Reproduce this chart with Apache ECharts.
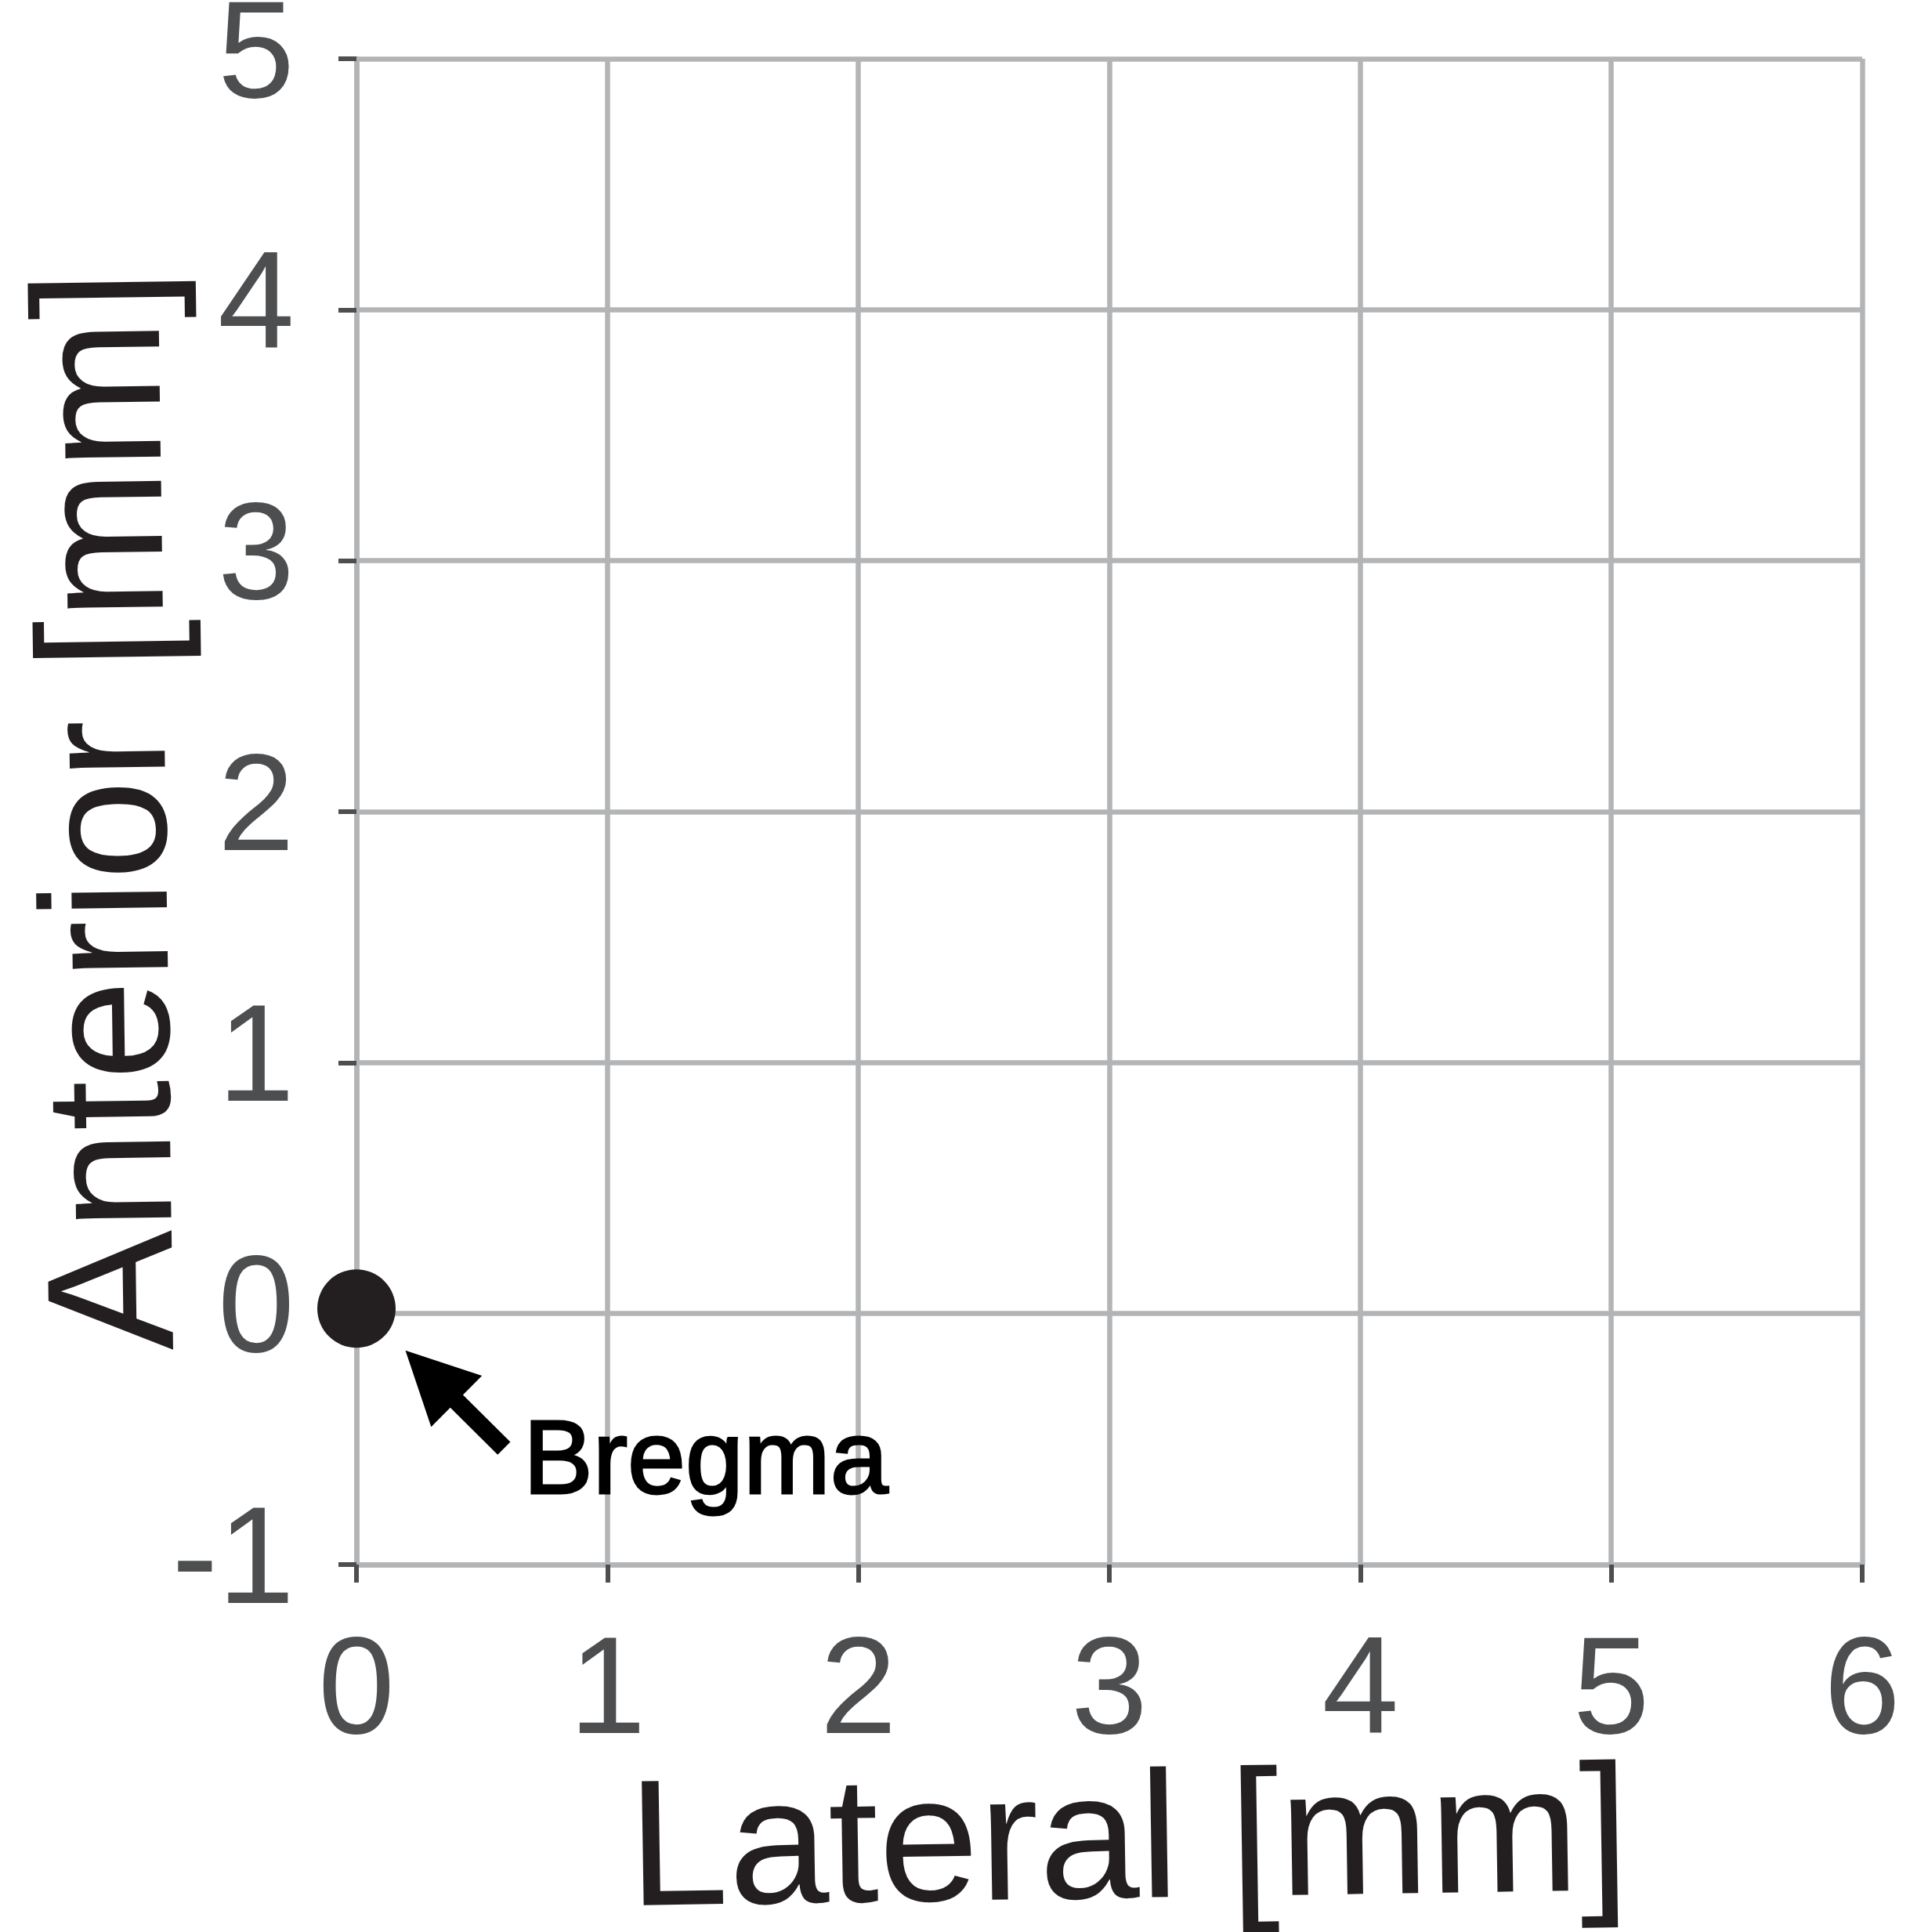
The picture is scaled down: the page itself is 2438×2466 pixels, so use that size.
<!DOCTYPE html>
<html>
<head>
<meta charset="utf-8">
<script src="https://cdn.jsdelivr.net/npm/echarts@6/dist/echarts.min.js"></script>
<style>
html,body{margin:0;padding:0;background:#fff;}
#chart{width:2438px;height:2466px;}
</style>
</head>
<body>
<div id="chart"></div>
<script>
// ---- data ----
const xTickValues = [0, 1, 2, 3, 4, 5, 6];
const yTickValues = [-1, 0, 1, 2, 3, 4, 5];
const xAxisTitle = 'Lateral [mm]';
const yAxisTitle = 'Anterior [mm]';
const bregmaPoint = [0, 0.02];
const arrowTail = [0.588, -0.537];
const arrowEnd = [0.297, -0.248];
const labelAnchor = [0.665, -0.603];
const labelText = 'Bregma';

const FONT = 'Liberation Sans';
const GRID_COLOR = '#b3b4b6';
const TICK_COLOR = '#4d4e50';
const INK = '#231f20';

const chart = echarts.init(document.getElementById('chart'), null, {renderer: 'canvas'});
chart.setOption({
  animation: false,
  backgroundColor: '#ffffff',
  grid: {left: 455, right: 61, top: 75, bottom: 469, containLabel: false, outerBoundsMode: 'none'},
  xAxis: {
    type: 'value',
    min: xTickValues[0], max: xTickValues[xTickValues.length - 1], interval: 1,
    axisLine: {show: true, onZero: false, lineStyle: {color: GRID_COLOR, width: 6.5}},
    axisTick: {show: true, length: 23, lineStyle: {color: TICK_COLOR, width: 6}},
    splitLine: {show: true, lineStyle: {color: GRID_COLOR, width: 6.5}},
    axisLabel: {margin: 78, fontSize: 176, fontFamily: FONT, color: TICK_COLOR},
    name: xAxisTitle,
    nameLocation: 'middle',
    nameGap: 247,
    nameMoveOverlap: false,
    nameRotate: 0.9,
    nameTextStyle: {fontSize: 230, fontFamily: FONT, color: INK, align: 'center', verticalAlign: 'top', padding: [0, 0, 0, 46]}
  },
  yAxis: {
    type: 'value',
    min: yTickValues[0], max: yTickValues[yTickValues.length - 1], interval: 1,
    axisLine: {show: true, onZero: false, lineStyle: {color: GRID_COLOR, width: 6.5}},
    axisTick: {show: true, length: 23, lineStyle: {color: TICK_COLOR, width: 6}},
    splitLine: {show: true, lineStyle: {color: GRID_COLOR, width: 6.5}},
    axisLabel: {margin: 79, fontSize: 176, fontFamily: FONT, color: TICK_COLOR},
    name: yAxisTitle,
    nameLocation: 'middle',
    nameGap: 192,
    nameMoveOverlap: false,
    nameRotate: 90.8,
    nameTextStyle: {fontSize: 230, fontFamily: FONT, color: INK, align: 'center', verticalAlign: 'bottom', padding: [0, 0, 0, 7]}
  },
  series: [
    {
      type: 'scatter',
      data: [bregmaPoint],
      symbol: 'circle',
      symbolSize: 100,
      itemStyle: {color: INK, opacity: 1},
      silent: true,
      z: 5,
      markLine: {
        silent: true,
        symbol: ['none', 'triangle'],
        symbolSize: 92,
        label: {show: false},
        lineStyle: {color: '#000000', width: 23, type: 'solid', opacity: 1},
        itemStyle: {color: '#000000', opacity: 1},
        emphasis: {disabled: true},
        data: [[{coord: arrowTail}, {coord: arrowEnd}]]
      }
    },
    {
      type: 'scatter',
      data: [labelAnchor],
      symbolSize: 0,
      silent: true,
      itemStyle: {opacity: 1},
      label: {
        show: true,
        position: 'right',
        distance: 0,
        formatter: labelText,
        fontSize: 133,
        fontFamily: FONT,
        color: '#000000',
        textBorderColor: '#000000',
        textBorderWidth: 3,
        align: 'left',
        verticalAlign: 'middle'
      }
    }
  ]
});
</script>
</body>
</html>
